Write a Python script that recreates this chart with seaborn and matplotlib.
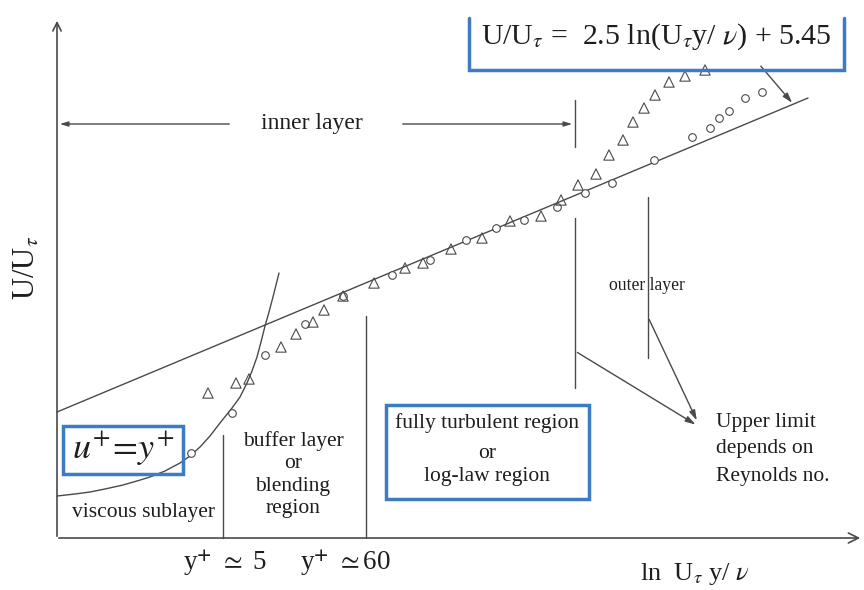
import matplotlib
matplotlib.use("Agg")
import matplotlib.pyplot as plt
import seaborn as sns
import pandas as pd
from matplotlib.patches import Rectangle

circ_x = [191, 232, 265, 305, 343, 392, 430, 466, 496, 524, 557, 585, 612, 654, 692, 710, 719, 729, 745, 762]
circ_y = [453, 413, 355, 324, 296, 275, 260, 240, 228, 220, 207, 193, 183, 160, 137, 128, 118, 111, 98, 92]

tri_x = [208, 236, 249, 281, 296, 313, 324, 343, 374, 405, 423, 451, 482, 510, 541, 561, 578, 596, 609, 623, 633, 644, 655, 669, 685, 705]
tri_y = [393, 383, 379, 347, 334, 322, 310, 296, 283, 268, 263, 249, 238, 221, 216, 200, 185, 174, 155, 140, 122, 108, 95, 82, 76, 70]

visc_x = [57, 75, 90, 105, 123, 137, 150, 165, 180, 190, 200, 210, 220, 232, 240, 247, 252, 257, 261, 265, 269, 273, 276, 279]
visc_y = [496, 494, 492, 489, 485, 481, 477, 471, 463, 456, 447, 436, 423, 408, 397, 383, 371, 357, 342, 326, 312, 297, 285, 273]

log_x = [57, 808]
log_y = [412, 98]

# vertical region dividers: (x, y_top, y_bottom)
dividers = [(223, 435, 538), (366, 316, 538), (575, 100, 147), (575, 218, 388), (648, 197, 358)]

W, H = 864, 590
sns.set_theme(style="white")
plt.rcParams["font.family"] = ["Liberation Serif", "DejaVu Serif"]
plt.rcParams["mathtext.fontset"] = "stix"

fig = plt.figure(figsize=(W / 100, H / 100), dpi=100)
ax = fig.add_axes([0, 0, 1, 1])
ax.set_xlim(0, W)
ax.set_ylim(H, 0)
ax.set_axis_off()

LC = "#4a4a4a"
TC = "#1e1e1e"
BLUE = "#3d7cc3"

# curves
sns.lineplot(x=log_x, y=log_y, ax=ax, color=LC, lw=1.0, sort=False, estimator=None)
sns.lineplot(x=visc_x, y=visc_y, ax=ax, color=LC, lw=1.0, sort=False, estimator=None)

# dividers
seg_rows = []
for i, (x, y0, y1) in enumerate(dividers):
    seg_rows.append({"seg": i, "x": x, "y": y0})
    seg_rows.append({"seg": i, "x": x, "y": y1})
seg_df = pd.DataFrame(seg_rows)
sns.lineplot(data=seg_df, x="x", y="y", units="seg", estimator=None, sort=False,
             ax=ax, color=LC, lw=1.0)

# markers
sns.scatterplot(x=circ_x, y=circ_y, ax=ax, marker="o", s=30, facecolor="white",
                edgecolor=LC, linewidth=0.8, zorder=4)
sns.scatterplot(x=tri_x, y=tri_y, ax=ax, marker="^", s=55, facecolor="none",
                edgecolor=LC, linewidth=0.8, zorder=4)

# axes arrows
ax.annotate("", xy=(57, 18), xytext=(57, 539),
            arrowprops=dict(arrowstyle="->,head_length=0.5,head_width=0.25", color=LC, lw=1.2))
ax.annotate("", xy=(863, 538), xytext=(56, 538),
            arrowprops=dict(arrowstyle="->,head_length=0.6,head_width=0.3", color=LC, lw=1.2))

# inner layer arrows
ax.annotate("", xy=(57, 124), xytext=(232, 124),
            arrowprops=dict(arrowstyle="-|>,head_length=0.4,head_width=0.12", color=LC, lw=1.0))
ax.annotate("", xy=(575, 124), xytext=(400, 124),
            arrowprops=dict(arrowstyle="-|>,head_length=0.4,head_width=0.12", color=LC, lw=1.0))
ax.text(312, 124, "inner layer", fontsize=17, color=TC, ha="center", va="center")

# arrows to "Upper limit"
ax.annotate("", xy=(698, 426), xytext=(575, 351),
            arrowprops=dict(arrowstyle="-|>,head_length=0.5,head_width=0.15", color=LC, lw=1.0))
ax.annotate("", xy=(698, 423), xytext=(648, 317),
            arrowprops=dict(arrowstyle="-|>,head_length=0.5,head_width=0.15", color=LC, lw=1.0))
# arrow from formula to log line
ax.annotate("", xy=(794, 105), xytext=(759, 64),
            arrowprops=dict(arrowstyle="-|>,head_length=0.5,head_width=0.15", color=LC, lw=1.0))

# formula box (open on top)
ax.plot([469, 469, 844, 844], [18, 70, 70, 18], color=BLUE, lw=2.5, solid_joinstyle="miter", zorder=5)
ax.text(656, 37, r"U/U$_{\tau}$ =  2.5 ln(U$_{\tau}$y/ $\nu$) + 5.45", fontsize=21.5,
        color=TC, ha="center", va="center")

# u+ = y+ box (transparent, curve shows through)
ax.add_patch(Rectangle((63, 426), 120, 48, fill=False,
                       edgecolor=BLUE, lw=2.5, zorder=5))
ax.text(123, 449, r"$u^{+}\!=\!y^{+}$", fontsize=26, color=TC, ha="center", va="center", zorder=6)

# fully turbulent box
ax.add_patch(Rectangle((386, 405), 203, 94, fill=True, facecolor="white",
                       edgecolor=BLUE, lw=2.5, zorder=5))
ax.text(487, 423, "fully turbulent region", fontsize=15.5, color=TC, ha="center", va="center", zorder=6)
ax.text(487, 454, "or", fontsize=15.5, color=TC, ha="center", va="center", zorder=6)
ax.text(487, 477, "log-law region", fontsize=15.5, color=TC, ha="center", va="center", zorder=6)

# region labels
ax.text(143, 513, "viscous sublayer", fontsize=15.5, color=TC, ha="center", va="center")
ax.text(293, 441, "buffer layer", fontsize=15.5, color=TC, ha="center", va="center")
ax.text(293, 464, "or", fontsize=15.5, color=TC, ha="center", va="center")
ax.text(293, 486, "blending", fontsize=15.5, color=TC, ha="center", va="center")
ax.text(293, 508, "region", fontsize=15.5, color=TC, ha="center", va="center")

ax.text(647, 285, "outer layer", fontsize=12.7, color=TC, ha="center", va="center")

ax.text(716, 423, "Upper limit", fontsize=15.5, color=TC, ha="left", va="center")
ax.text(716, 448, "depends on", fontsize=15.5, color=TC, ha="left", va="center")
ax.text(716, 476, "Reynolds no.", fontsize=15.5, color=TC, ha="left", va="center")

# axis labels
ax.text(27, 268, r"U/U$_{\tau}$", fontsize=22, color=TC, ha="center", va="center", rotation=90)
ax.text(225, 563, r"y$^{\mathbf{+}}$ $\simeq$ 5", fontsize=19.5, color=TC, ha="center", va="center")
ax.text(345, 563, r"y$^{\mathbf{+}}$ $\simeq$60", fontsize=19.5, color=TC, ha="center", va="center")
ax.text(695, 574, r"ln  U$_{\tau}$ y/ $\nu$", fontsize=19, color=TC, ha="center", va="center")

fig.savefig("out.png", dpi=100)
